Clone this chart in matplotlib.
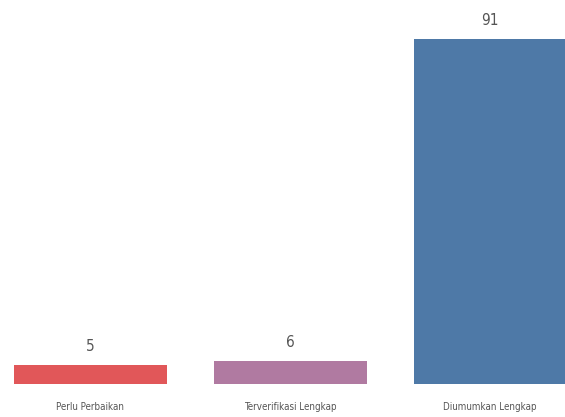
import matplotlib.pyplot as plt

# Data
categories = ["Perlu Perbaikan", "Terverifikasi Lengkap", "Diumumkan Lengkap"]
values = [5, 6, 91]
colors = ["#E15759", "#B07AA1", "#4E79A7"]

fig = plt.figure(figsize=(5.65, 4.17), dpi=100)
ax = fig.add_axes([0, 33 / 417, 1, 384 / 417])

x = list(range(len(categories)))
bars = ax.bar(x, values, width=0.765, color=colors)

ax.set_xlim(-0.45, 2.375)
ax.set_ylim(0, 91 * 384 / 345)

font = dict(family="DejaVu Sans", stretch="condensed", color="#555555")
for b, v in zip(bars, values):
    ax.annotate(str(v), (b.get_x() + b.get_width() / 2, v), xytext=(0, 8),
                textcoords="offset points", ha="center", va="bottom",
                fontsize=11, **font)

ax.set_xticks(x)
ax.set_xticklabels(categories, fontsize=7, **font)
ax.tick_params(axis="x", length=0, pad=13)
ax.set_yticks([])
for s in ax.spines.values():
    s.set_visible(False)

plt.savefig("out.png")
